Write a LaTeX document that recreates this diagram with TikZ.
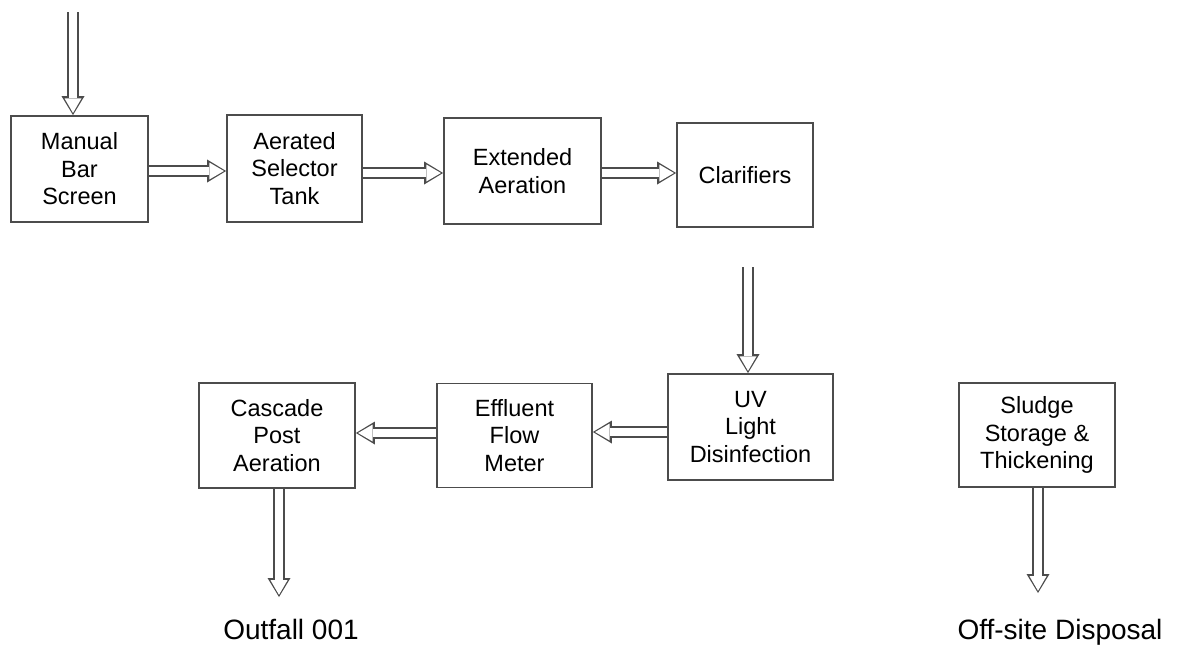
\documentclass[tikz,border=0pt]{standalone}
\usepackage{fontspec}
\setmainfont{Liberation Sans}
\usepackage{tikz}
\usetikzlibrary{arrows.meta, positioning}

\begin{document}
\begin{tikzpicture}[x=1pt, y=-1pt,
        stage/.style={rectangle, draw=black!70, line width=1.8pt, fill=white, inner sep=0pt, align=center, text=black, font=\fontsize{23.5}{27.5}\selectfont},
        outlet/.style={anchor=base, text=black, font=\fontsize{28}{32}\selectfont},
        flow/.style={draw=black!70, line width=12pt, -{Triangle[length=19pt, width=23pt, line width=0pt]},
            postaction={draw=white, line width=8.6pt, shorten >=2.2pt, -{Triangle[length=14.6pt, width=17pt, line width=0pt]}}}
    ]
        \useasboundingbox (0,0) rectangle (1177,651);

        % Linea principal de tratamiento (fila superior)
        \node[stage, minimum width=137pt, minimum height=106pt] (msc) at (79.5,169) {Manual\\Bar\\Screen};
        \node[stage, minimum width=135pt, minimum height=107pt] (ast) at (294.5,168.5) {Aerated\\Selector\\Tank};
        \node[stage, minimum width=157pt, minimum height=106pt] (ext) at (522.5,171) {Extended\\Aeration};
        \node[stage, minimum width=136pt, minimum height=104pt] (cla) at (745,175) {Clarifiers};

        % Fila inferior: desinfeccion, medicion y salida
        \node[stage, minimum width=165pt, minimum height=106pt] (uvd) at (750.5,427) {UV\\Light\\Disinfection};
        \node[stage, minimum width=155pt, minimum height=104pt] (efm) at (514.5,435.5) {Effluent\\Flow\\Meter};
        \node[stage, minimum width=156pt, minimum height=105pt] (cpa) at (277,435.5) {Cascade\\Post\\Aeration};
        \node[stage, minimum width=156pt, minimum height=104pt] (ssk) at (1037,435) {Sludge\\Storage \&\\Thickening};

        % Destinos finales
        \node[outlet] (out) at (291,639) {Outfall 001};
        \node[outlet] (dsp) at (1060,639) {Off-site Disposal};

        % Extremos libres de las flechas
        \coordinate (inf) at (73,12);
        \coordinate (cdn) at (748,267);
        \coordinate (oute) at (279,597);
        \coordinate (dspe) at (1038,593);

        % Flechas de flujo
        \draw[flow] (inf) -- (inf |- msc.north);
        \draw[flow] (msc.east |- 0,171) -- (ast.west |- 0,171);
        \draw[flow] (ast.east |- 0,173) -- (ext.west |- 0,173);
        \draw[flow] (ext.east |- 0,173) -- (cla.west |- 0,173);
        \draw[flow] (cdn) -- (cdn |- uvd.north);
        \draw[flow] (uvd.west |- 0,432) -- (efm.east |- 0,432);
        \draw[flow] (efm.west |- 0,433) -- (cpa.east |- 0,433);
        \draw[flow] (oute |- cpa.south) -- (oute);
        \draw[flow] (dspe |- ssk.south) -- (dspe);
    \end{tikzpicture}
\end{document}
